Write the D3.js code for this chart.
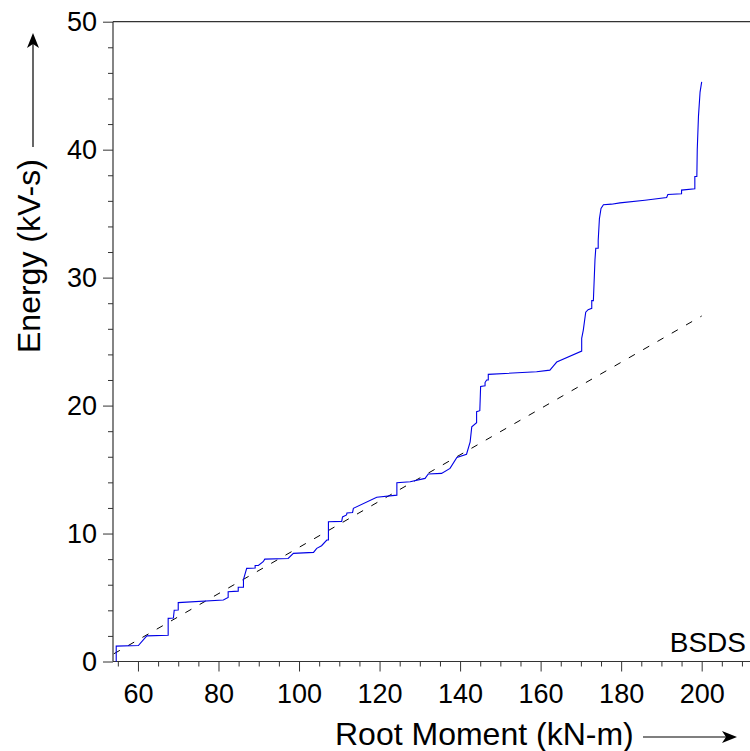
<!DOCTYPE html>
<html>
<head>
<meta charset="utf-8">
<script src="https://cdn.jsdelivr.net/npm/d3@7"></script>
<style>
  html, body { margin: 0; padding: 0; background: #ffffff; }
  svg { display: block; }
  text { font-family: "Liberation Sans", Arial, Helvetica, sans-serif; fill: #000; }
</style>
</head>
<body>
<script>
// ---- data ----
const moment = [54.6,54.6,60.1,62.2,67.5,67.5,68.8,69.0,70.0,70.0,81.2,82.4,82.4,84.9,84.9,86.2,86.2,87.0,89.1,89.1,89.9,91.1,91.5,97.3,98.6,103.6,104.4,105.6,106.9,107.3,107.3,110.6,110.8,111.8,111.9,113.3,113.5,119.3,124.3,124.3,127.6,131.3,132.1,135.4,137.5,139.2,141.6,142.5,142.9,144.1,144.1,144.9,145.1,146.2,146.2,146.6,147.0,147.0,159.0,162.3,163.2,164.0,170.2,170.2,170.6,171.2,171.8,172.7,172.7,173.1,173.5,173.7,174.3,174.3,174.6,175.0,175.6,177.6,179.7,185.9,191.3,191.6,195.0,195.0,198.3,198.3,198.8,198.9,199.2,199.6,200.0];
const energy = [0,1.2,1.25,2.0,2.05,3.37,3.4,4.0,4.02,4.6,4.8,5.0,5.45,5.5,5.8,5.8,6.4,7.28,7.3,7.5,7.5,7.8,8.0,8.05,8.45,8.53,8.84,9.05,9.49,9.5,10.92,10.95,11.3,11.45,11.6,11.65,11.97,12.83,13.0,13.97,14.05,14.31,14.65,14.7,15.09,15.95,16.2,17.17,18.34,18.66,19.52,19.6,21.5,21.55,21.8,22.0,22.0,22.44,22.64,22.77,23.1,23.4,24.26,25.25,25.9,27.3,27.5,27.6,28.2,28.2,31.4,32.3,32.3,32.9,34.6,35.4,35.7,35.74,35.84,36.05,36.26,36.5,36.55,36.84,36.95,37.9,37.9,40.0,42.6,44.5,45.3];
const fitMoment = [54, 200];
const fitEnergy = [0.6, 27.0];
const xMajorTicks = [60, 80, 100, 120, 140, 160, 180, 200];
const yMajorTicks = [0, 10, 20, 30, 40, 50];
const xDomain = [53.8, 212];
const yDomain = [0, 50];
const xTitle = "Root Moment (kN-m)";
const yTitle = "Energy (kV-s)";
const tag = "BSDS";

// ---- layout ----
const W = 750, H = 751;
const pLeft = 113, pRight = 750, pTop = 21.7, pBottom = 661.5;

const svg = d3.select("body").append("svg").attr("width", W).attr("height", H);

const x = d3.scaleLinear().domain(xDomain).range([pLeft, pRight]);
const y = d3.scaleLinear().domain(yDomain).range([pBottom, pTop]);

const axisColor = "#333";

// minor ticks
const xMinor = d3.range(55, 212, 5).filter(v => !xMajorTicks.includes(v));
const yMinor = d3.range(0, 50, 2).filter(v => !yMajorTicks.includes(v));

const gx = svg.append("g").attr("transform", `translate(0,${pBottom})`);
gx.call(d3.axisBottom(x).tickValues(xMinor).tickSize(5).tickFormat("").tickSizeOuter(0));
gx.selectAll(".tick line").attr("stroke", axisColor);
const gx2 = svg.append("g").attr("transform", `translate(0,${pBottom})`);
gx2.call(d3.axisBottom(x).tickValues(xMajorTicks).tickSize(10).tickSizeOuter(0).tickPadding(12));
gx2.selectAll(".tick line").attr("stroke", axisColor);
gx2.selectAll(".tick text").attr("font-size", 27).attr("font-family", "Liberation Sans, Arial, sans-serif").attr("fill", "#000");

const gy = svg.append("g").attr("transform", `translate(${pLeft},0)`);
gy.call(d3.axisLeft(y).tickValues(yMinor).tickSize(5).tickFormat("").tickSizeOuter(0));
gy.selectAll(".tick line").attr("stroke", axisColor);
const gy2 = svg.append("g").attr("transform", `translate(${pLeft},0)`);
gy2.call(d3.axisLeft(y).tickValues(yMajorTicks).tickSize(10).tickSizeOuter(0).tickPadding(6));
gy2.selectAll(".tick line").attr("stroke", axisColor);
gy2.selectAll(".tick text").attr("font-size", 27).attr("font-family", "Liberation Sans, Arial, sans-serif").attr("fill", "#000");
svg.selectAll(".domain").remove();

// axis lines + top border
svg.append("line").attr("x1", pLeft).attr("x2", pRight).attr("y1", pBottom).attr("y2", pBottom).attr("stroke", axisColor).attr("stroke-width", 1.2);
svg.append("line").attr("x1", pLeft).attr("x2", pLeft).attr("y1", pTop).attr("y2", pBottom).attr("stroke", axisColor).attr("stroke-width", 1.2);
svg.append("line").attr("x1", pLeft).attr("x2", pRight).attr("y1", pTop).attr("y2", pTop).attr("stroke", axisColor).attr("stroke-width", 1.2);

// dashed fit line
const fitData = fitMoment.map((m, i) => [m, fitEnergy[i]]);
svg.append("path")
  .datum(fitData)
  .attr("d", d3.line().x(d => x(d[0])).y(d => y(d[1])))
  .attr("fill", "none").attr("stroke", "#000").attr("stroke-width", 1)
  .attr("stroke-dasharray", "7,9.5");

// blue cumulative curve
const lineData = moment.map((m, i) => [m, energy[i]]);
svg.append("path")
  .datum(lineData)
  .attr("d", d3.line().x(d => x(d[0])).y(d => y(d[1])))
  .attr("fill", "none").attr("stroke", "#0000e6").attr("stroke-width", 1.1)
  .attr("stroke-linejoin", "miter");

// tag
svg.append("text").attr("x", 746).attr("y", 652).attr("text-anchor", "end")
  .attr("font-size", 28).text(tag);

// x title with arrow
svg.append("text").attr("x", 335).attr("y", 745).attr("font-size", 32).text(xTitle);
svg.append("line").attr("x1", 643).attr("x2", 728).attr("y1", 737).attr("y2", 737).attr("stroke", "#000").attr("stroke-width", 1.2);
svg.append("path").attr("d", "M737,737 L722,731 L726,737 L722,743 Z").attr("fill", "#000");

// y title with arrow
svg.append("text").attr("transform", "translate(40,353) rotate(-90)").attr("font-size", 32).text(yTitle);
svg.append("line").attr("x1", 33).attr("x2", 33).attr("y1", 147).attr("y2", 42).attr("stroke", "#000").attr("stroke-width", 1.2);
svg.append("path").attr("d", "M33,33 L27,48 L33,44 L39,48 Z").attr("fill", "#000");
</script>
</body>
</html>
